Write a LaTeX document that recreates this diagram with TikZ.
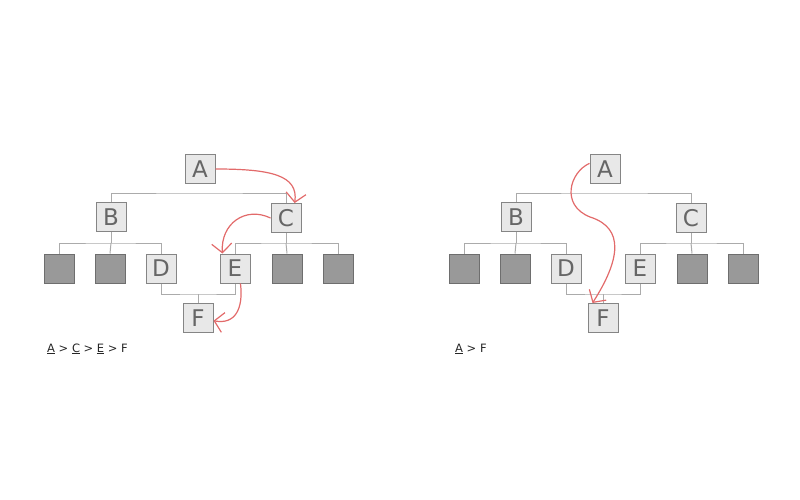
\documentclass[tikz,border=0pt]{standalone}
\usepackage{fontspec}
\setmainfont{DejaVu Sans}
\usetikzlibrary{arrows.meta}
\definecolor{boxfill}{HTML}{E8E8E8}
\definecolor{boxline}{HTML}{858585}
\definecolor{boxtext}{HTML}{666666}
\definecolor{leaffill}{HTML}{999999}
\definecolor{leafline}{HTML}{6E6E6E}
\definecolor{linkgray}{HTML}{ABABAB}
\definecolor{trailred}{HTML}{E26A6A}
\tikzset{
  box/.style={draw=boxline, fill=boxfill, line width=1pt, minimum width=30pt,
              minimum height=29pt, inner sep=0pt, text=boxtext,
              font=\fontsize{23}{23}\selectfont},
  leafbox/.style={box, fill=leaffill, draw=leafline},
  link/.style={draw=linkgray, line width=1pt},
  trail/.style={draw=trailred, line width=1.2pt,
                -{Straight Barb[length=9pt, width=20pt]}},
  caption/.style={font=\fontsize{11.5}{13}\selectfont, text=black!85, anchor=base west, inner sep=0pt},
}

\begin{document}
\begin{tikzpicture}[x=1pt, y=-1pt]
    \useasboundingbox (0,0) rectangle (800,500);
    % left tree: A > C > E > F
    \node[box] (lA) at (200, 169) {A};
    \node[box] (lB) at (111, 217) {B};
    \node[box] (lC) at (286, 218) {C};
    \node[leafbox] (lL1) at (59, 268.5) {};
    \node[leafbox] (lL2) at (110, 268.5) {};
    \node[box] (lD) at (161, 268.5) {D};
    \node[box] (lE) at (235, 268.5) {E};
    \node[leafbox] (lL5) at (287, 268.5) {};
    \node[leafbox] (lL6) at (338, 268.5) {};
    \node[box] (lF) at (198, 318) {F};
    \coordinate (lAbus) at (200, 193);
    \draw[link] (lB.north) |- (lAbus) -| (lC.north);
    \draw[link] (lB.south) -- ++(0,11) coordinate (lBbus);
    \draw[link] (lL1.north) |- (lBbus) -| (lD.north);
    \draw[link] (lL2.north) -- (lBbus);
    \draw[link] (lC.south) -- ++(0,10) coordinate (lCbus);
    \draw[link] (lE.north) |- (lCbus) -| (lL6.north);
    \draw[link] (lL5.north) -- (lCbus);
    \draw[link] (lF.north) -- ++(0,-9) coordinate (lFbus);
    \draw[link] (lD.south) |- (lFbus) -| (lE.south);
    \draw[trail] (lA.east) .. controls +(55,0) and +(4,-28) .. (lC.60);
    \draw[trail] (lC.west) .. controls +(-25,-12) and +(-2,-30) .. (lE.130);
    \draw[trail] (lE.-70) .. controls +(3,25) and +(22,4) .. (lF.-10);
    \node[caption] (lPath) at (47, 352) {\underline{A} > \underline{C} > \underline{E} > F};

    % right tree: A > F
    \node[box] (rA) at (605, 169) {A};
    \node[box] (rB) at (516, 217) {B};
    \node[box] (rC) at (691, 218) {C};
    \node[leafbox] (rL1) at (464, 268.5) {};
    \node[leafbox] (rL2) at (515, 268.5) {};
    \node[box] (rD) at (566, 268.5) {D};
    \node[box] (rE) at (640, 268.5) {E};
    \node[leafbox] (rL5) at (692, 268.5) {};
    \node[leafbox] (rL6) at (743, 268.5) {};
    \node[box] (rF) at (603, 318) {F};
    \coordinate (rAbus) at (605, 193);
    \draw[link] (rB.north) |- (rAbus) -| (rC.north);
    \draw[link] (rB.south) -- ++(0,11) coordinate (rBbus);
    \draw[link] (rL1.north) |- (rBbus) -| (rD.north);
    \draw[link] (rL2.north) -- (rBbus);
    \draw[link] (rC.south) -- ++(0,10) coordinate (rCbus);
    \draw[link] (rE.north) |- (rCbus) -| (rL6.north);
    \draw[link] (rL5.north) -- (rCbus);
    \draw[link] (rF.north) -- ++(0,-9) coordinate (rFbus);
    \draw[link] (rD.south) |- (rFbus) -| (rE.south);
    \coordinate (rBend) at (590, 217);
    \draw[trail] (rA.160) .. controls (570,172) and (560,205) .. (rBend)
                 .. controls (625,228) and (620,260) .. (rF.125);
    \node[caption] (rPath) at (455, 352) {\underline{A} > F};
\end{tikzpicture}
\end{document}
